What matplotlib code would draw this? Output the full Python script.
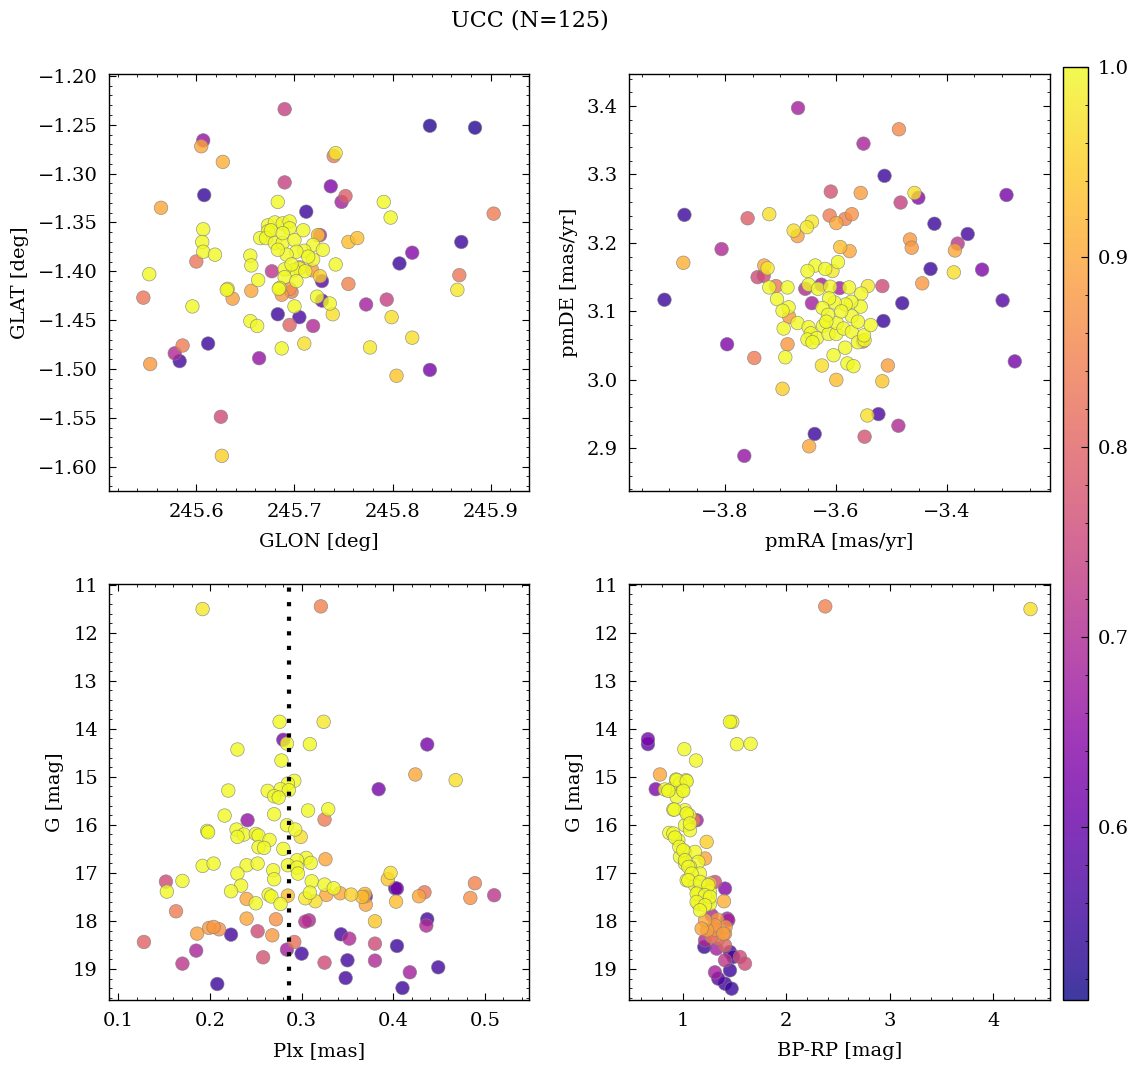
"""UCC membership overview: sky, proper motions, parallax and CMD coloured by probability."""

import matplotlib
matplotlib.use("Agg")
import matplotlib.pyplot as plt
import matplotlib.ticker as mticker
import numpy as np

# ---------------------------------------------------------------------------
# Data
# ---------------------------------------------------------------------------

glon = [245.690, 245.838, 245.884, 245.607, 245.605, 245.627, 245.742, 245.740, 245.690, 245.737,
        245.608, 245.752, 245.748, 245.564, 245.683, 245.791, 245.798, 245.712, 245.903, 245.607,
        245.606, 245.607, 245.619, 245.600, 245.552, 245.546, 245.870, 245.820, 245.807, 245.868,
        245.866, 245.755, 245.764, 245.742, 245.755, 245.726, 245.724, 245.632, 245.631, 245.637,
        245.596, 245.655, 245.656, 245.663, 245.656, 245.677, 245.773, 245.794, 245.799, 245.820,
        245.777, 245.804, 245.838, 245.728, 245.728, 245.723, 245.736, 245.739, 245.700, 245.683,
        245.705, 245.695, 245.719, 245.655, 245.662, 245.687, 245.710, 245.664, 245.612, 245.586,
        245.578, 245.583, 245.553, 245.625, 245.626, 245.673, 245.680, 245.688, 245.695, 245.695,
        245.673, 245.665, 245.671, 245.680, 245.688, 245.700, 245.709, 245.719, 245.729, 245.710,
        245.702, 245.692, 245.719, 245.705, 245.699, 245.690, 245.711, 245.718, 245.726, 245.690,
        245.702, 245.685, 245.695, 245.687, 245.697, 245.705, 245.676, 245.688, 245.683, 245.697,
        245.714, 245.684]
glat = [-1.234, -1.251, -1.253, -1.266, -1.272, -1.288, -1.279, -1.282, -1.309, -1.313,
        -1.322, -1.323, -1.329, -1.335, -1.329, -1.329, -1.345, -1.339, -1.341, -1.357,
        -1.370, -1.380, -1.383, -1.390, -1.403, -1.427, -1.370, -1.381, -1.392, -1.404,
        -1.419, -1.370, -1.366, -1.393, -1.413, -1.363, -1.363, -1.418, -1.419, -1.428,
        -1.436, -1.384, -1.394, -1.409, -1.420, -1.400, -1.434, -1.429, -1.447, -1.468,
        -1.478, -1.507, -1.501, -1.410, -1.430, -1.426, -1.433, -1.444, -1.436, -1.444,
        -1.447, -1.455, -1.456, -1.451, -1.456, -1.479, -1.474, -1.489, -1.474, -1.476,
        -1.484, -1.492, -1.495, -1.549, -1.589, -1.353, -1.350, -1.351, -1.349, -1.356,
        -1.359, -1.366, -1.366, -1.371, -1.371, -1.368, -1.358, -1.373, -1.378, -1.379,
        -1.380, -1.383, -1.388, -1.397, -1.399, -1.398, -1.400, -1.399, -1.405, -1.406,
        -1.410, -1.417, -1.418, -1.424, -1.421, -1.396, -1.358, -1.361, -1.378, -1.393,
        -1.385, -1.418]
prob_sky = [0.74, 0.53, 0.53, 0.66, 0.90, 0.91, 0.98, 0.84, 0.74, 0.63,
            0.54, 0.79, 0.68, 0.90, 1.00, 1.00, 1.00, 0.55, 0.84, 1.00,
            1.00, 1.00, 1.00, 0.83, 1.00, 0.83, 0.55, 0.64, 0.55, 0.83,
            0.98, 0.93, 0.93, 1.00, 0.85, 0.70, 0.94, 0.98, 1.00, 0.89,
            1.00, 1.00, 1.00, 1.00, 0.90, 0.72, 0.68, 0.74, 0.97, 0.97,
            0.98, 0.94, 0.62, 0.58, 0.60, 1.00, 1.00, 0.97, 1.00, 0.55,
            0.57, 0.80, 0.70, 1.00, 1.00, 1.00, 0.97, 0.66, 0.55, 0.84,
            0.70, 0.56, 0.88, 0.76, 0.95, 1.00, 1.00, 1.00, 1.00, 1.00,
            1.00, 1.00, 1.00, 1.00, 1.00, 1.00, 1.00, 1.00, 1.00, 1.00,
            1.00, 1.00, 1.00, 1.00, 1.00, 1.00, 1.00, 0.88, 0.95, 1.00,
            1.00, 1.00, 0.87, 0.88, 0.84, 0.88, 1.00, 1.00, 1.00, 1.00,
            1.00, 1.00]

pmra = [-3.668, -3.486, -3.550, -3.512, -3.609, -3.555, -3.458, -3.451, -3.483, -3.292,
        -3.873, -3.759, -3.720, -3.611, -3.599, -3.583, -3.571, -3.643, -3.652, -3.676,
        -3.669, -3.422, -3.362, -3.380, -3.385, -3.466, -3.463, -3.806, -3.875, -3.592,
        -3.575, -3.596, -3.637, -3.619, -3.606, -3.651, -3.729, -3.723, -3.741, -3.730,
        -3.708, -3.720, -3.687, -3.706, -3.429, -3.387, -3.336, -3.444, -3.516, -3.480,
        -3.299, -3.909, -3.655, -3.643, -3.626, -3.593, -3.649, -3.632, -3.610, -3.576,
        -3.542, -3.554, -3.555, -3.572, -3.582, -3.602, -3.612, -3.624, -3.571, -3.685,
        -3.696, -3.684, -3.669, -3.694, -3.649, -3.645, -3.651, -3.634, -3.642, -3.623,
        -3.613, -3.599, -3.598, -3.586, -3.571, -3.560, -3.551, -3.548, -3.549, -3.537,
        -3.514, -3.687, -3.691, -3.747, -3.796, -3.604, -3.583, -3.625, -3.579, -3.568,
        -3.506, -3.599, -3.516, -3.696, -3.277, -3.543, -3.523, -3.487, -3.638, -3.548,
        -3.648, -3.765, -3.614, -3.590, -3.617, -3.560]
pmde = [3.397, 3.366, 3.345, 3.298, 3.275, 3.273, 3.273, 3.266, 3.259, 3.270,
        3.241, 3.236, 3.242, 3.240, 3.229, 3.235, 3.242, 3.231, 3.223, 3.218,
        3.210, 3.228, 3.213, 3.199, 3.189, 3.205, 3.193, 3.191, 3.171, 3.194,
        3.188, 3.172, 3.167, 3.162, 3.159, 3.159, 3.167, 3.163, 3.150, 3.152,
        3.137, 3.135, 3.135, 3.118, 3.162, 3.157, 3.161, 3.141, 3.137, 3.112,
        3.116, 3.117, 3.133, 3.112, 3.139, 3.134, 3.139, 3.133, 3.136, 3.135,
        3.137, 3.126, 3.107, 3.114, 3.110, 3.113, 3.119, 3.105, 3.093, 3.106,
        3.101, 3.092, 3.083, 3.075, 3.077, 3.068, 3.059, 3.061, 3.055, 3.079,
        3.067, 3.067, 3.083, 3.075, 3.070, 3.055, 3.056, 3.058, 3.065, 3.080,
        3.086, 3.052, 3.033, 3.032, 3.052, 3.036, 3.047, 3.021, 3.024, 3.020,
        3.021, 3.000, 2.998, 2.987, 3.027, 2.948, 2.950, 2.933, 2.921, 2.917,
        2.903, 2.889, 3.095, 3.100, 3.085, 3.085]
prob_pm = [0.68, 0.86, 0.69, 0.55, 0.77, 0.89, 0.97, 0.64, 0.74, 0.62,
           0.55, 0.79, 0.97, 0.84, 0.90, 0.85, 0.87, 0.98, 0.98, 0.97,
           0.89, 0.55, 0.56, 0.72, 0.90, 0.88, 0.88, 0.70, 0.91, 0.93,
           0.90, 1.00, 1.00, 1.00, 0.98, 1.00, 0.90, 0.98, 0.76, 0.76,
           0.83, 1.00, 1.00, 1.00, 0.55, 0.97, 0.63, 0.88, 0.76, 0.55,
           0.58, 0.55, 0.70, 0.68, 0.68, 0.68, 1.00, 1.00, 1.00, 1.00,
           0.98, 1.00, 1.00, 1.00, 1.00, 1.00, 1.00, 1.00, 1.00, 1.00,
           1.00, 0.88, 1.00, 1.00, 1.00, 1.00, 1.00, 1.00, 1.00, 1.00,
           1.00, 1.00, 1.00, 1.00, 1.00, 1.00, 0.84, 1.00, 1.00, 1.00,
           0.55, 0.88, 1.00, 0.84, 0.63, 1.00, 1.00, 0.97, 1.00, 1.00,
           0.89, 0.93, 0.94, 0.95, 0.62, 0.97, 0.57, 0.70, 0.55, 0.77,
           0.90, 0.66, 1.00, 1.00, 1.00, 1.00]

plx = [0.192, 0.321, 0.276, 0.324, 0.280, 0.284, 0.309, 0.230, 0.278, 0.437,
       0.424, 0.468, 0.384, 0.292, 0.285, 0.277, 0.286, 0.263, 0.270, 0.275,
       0.220, 0.307, 0.329, 0.325, 0.270, 0.216, 0.241, 0.284, 0.197, 0.198,
       0.229, 0.237, 0.230, 0.293, 0.299, 0.250, 0.253, 0.265, 0.253, 0.259,
       0.280, 0.326, 0.305, 0.310, 0.295, 0.285, 0.295, 0.296, 0.192, 0.204,
       0.240, 0.252, 0.230, 0.269, 0.270, 0.170, 0.152, 0.234, 0.311, 0.325,
       0.335, 0.397, 0.394, 0.402, 0.404, 0.489, 0.434, 0.309, 0.304, 0.315,
       0.327, 0.342, 0.354, 0.369, 0.370, 0.366, 0.370, 0.380, 0.403, 0.428,
       0.484, 0.510, 0.437, 0.436, 0.153, 0.163, 0.223, 0.264, 0.267, 0.250,
       0.240, 0.277, 0.285, 0.240, 0.272, 0.304, 0.308, 0.186, 0.199, 0.204,
       0.210, 0.223, 0.252, 0.268, 0.128, 0.185, 0.170, 0.258, 0.208, 0.292,
       0.284, 0.300, 0.325, 0.343, 0.352, 0.350, 0.348, 0.380, 0.380, 0.404,
       0.410, 0.418, 0.449]
g_plx = [11.507, 11.451, 13.854, 13.854, 14.229, 14.306, 14.319, 14.431, 14.660, 14.326,
         14.951, 15.069, 15.257, 15.083, 15.139, 15.257, 15.278, 15.292, 15.403, 15.431,
         15.285, 15.701, 15.674, 15.889, 15.778, 15.806, 15.903, 16.007, 16.125, 16.153,
         16.097, 16.201, 16.250, 16.097, 16.250, 16.188, 16.222, 16.313, 16.465, 16.479,
         16.500, 16.715, 16.688, 16.792, 16.736, 16.840, 16.889, 17.014, 16.854, 16.806,
         16.840, 16.806, 17.014, 16.944, 17.132, 17.167, 17.181, 17.264, 17.174, 17.243,
         17.319, 17.000, 17.132, 17.319, 17.325, 17.215, 17.403, 17.410, 17.528, 17.590,
         17.458, 17.424, 17.451, 17.438, 17.490, 17.500, 17.660, 18.007, 17.597, 17.486,
         17.521, 17.465, 17.965, 18.097, 17.389, 17.799, 17.382, 17.451, 17.490, 17.632,
         17.542, 17.646, 17.472, 17.951, 17.965, 18.014, 17.986, 18.264, 18.146, 18.125,
         18.174, 18.285, 18.215, 18.299, 18.438, 18.618, 18.889, 18.757, 19.313, 18.438,
         18.597, 18.681, 18.868, 18.278, 18.368, 18.819, 19.188, 18.472, 18.826, 18.521,
         19.396, 19.069, 18.965]
prob_plx = [0.98, 0.85, 1.00, 0.98, 0.62, 1.00, 1.00, 1.00, 1.00, 0.62,
            0.90, 0.97, 0.62, 1.00, 1.00, 1.00, 1.00, 1.00, 1.00, 1.00,
            1.00, 1.00, 1.00, 0.84, 1.00, 1.00, 0.66, 1.00, 1.00, 1.00,
            1.00, 1.00, 1.00, 1.00, 0.97, 1.00, 1.00, 1.00, 1.00, 1.00,
            1.00, 0.90, 1.00, 1.00, 1.00, 1.00, 1.00, 1.00, 1.00, 1.00,
            1.00, 1.00, 1.00, 1.00, 1.00, 1.00, 0.76, 1.00, 1.00, 1.00,
            1.00, 0.97, 0.94, 0.55, 0.62, 0.85, 0.83, 1.00, 0.98, 0.97,
            0.90, 0.90, 0.95, 0.93, 0.62, 0.93, 0.90, 0.94, 0.93, 0.90,
            0.87, 0.72, 0.56, 0.70, 1.00, 0.84, 1.00, 1.00, 1.00, 1.00,
            0.90, 1.00, 0.93, 0.90, 0.87, 0.71, 0.70, 0.89, 0.88, 0.88,
            0.87, 0.56, 0.76, 0.88, 0.80, 0.69, 0.72, 0.77, 0.55, 0.82,
            0.68, 0.56, 0.76, 0.56, 0.70, 0.56, 0.56, 0.76, 0.70, 0.55,
            0.55, 0.68, 0.56]
plx_median = 0.286

bprp = [2.377, 4.359, 1.457, 1.479, 1.524, 1.656, 0.665, 0.665, 1.016, 1.129,
        0.781, 0.740, 0.936, 1.032, 0.974, 0.878, 0.829, 1.000, 0.942, 0.910,
        1.023, 1.064, 1.135, 1.103, 1.023, 1.071, 0.871, 0.958, 0.910, 1.023,
        1.119, 1.232, 1.216, 0.974, 1.023, 1.151, 1.071, 1.167, 1.039, 1.119,
        1.264, 1.312, 1.409, 1.264, 1.151, 1.248, 1.399, 1.183, 1.151, 1.264,
        1.216, 1.335, 1.431, 1.280, 1.415, 1.312, 1.238, 1.409, 1.344, 1.209,
        1.328, 1.457, 1.409, 1.489, 1.553, 1.602, 1.457, 1.312, 1.344, 1.409,
        1.473, 0.942, 1.039, 0.862, 1.006, 0.920, 1.039, 1.071, 0.926, 0.968,
        1.006, 1.023, 1.055, 1.087, 1.055, 1.167, 1.248, 1.135, 1.216, 1.264,
        1.135, 1.216, 1.167, 1.312, 1.183, 1.393, 1.280, 1.216, 1.409, 1.441]
g_cmd = [11.451, 11.507, 13.854, 13.854, 14.319, 14.312, 14.215, 14.319, 14.424, 14.660,
         14.951, 15.257, 15.056, 15.069, 15.139, 15.264, 15.264, 15.278, 15.417, 15.681,
         15.694, 15.799, 15.903, 15.903, 16.007, 16.111, 16.167, 16.319, 16.180, 16.563,
         16.563, 16.354, 16.701, 16.667, 16.806, 16.771, 16.875, 17.014, 17.153, 17.257,
         17.222, 17.188, 17.326, 17.396, 17.396, 17.569, 17.590, 17.604, 17.646, 17.646,
         17.986, 17.972, 17.951, 17.882, 18.125, 18.181, 18.194, 18.264, 18.368, 18.542,
         18.576, 18.646, 18.819, 18.750, 18.750, 18.889, 19.028, 19.069, 19.201, 19.306,
         19.410, 15.069, 15.090, 15.292, 15.292, 15.681, 15.764, 15.972, 16.264, 16.458,
         16.528, 16.736, 16.875, 17.014, 17.153, 17.188, 17.257, 17.431, 17.465, 17.500,
         17.604, 17.674, 17.778, 18.090, 18.160, 18.264, 18.333, 18.403, 18.507, 17.986]
prob_cmd = [0.85, 0.97, 1.00, 0.98, 1.00, 1.00, 0.62, 0.60, 1.00, 1.00,
            0.90, 0.63, 1.00, 1.00, 1.00, 1.00, 1.00, 1.00, 1.00, 1.00,
            1.00, 1.00, 0.68, 0.84, 1.00, 1.00, 1.00, 1.00, 1.00, 1.00,
            1.00, 0.95, 0.90, 1.00, 1.00, 1.00, 1.00, 1.00, 1.00, 1.00,
            0.94, 0.76, 0.64, 1.00, 1.00, 1.00, 0.91, 1.00, 1.00, 1.00,
            0.90, 0.88, 0.68, 0.70, 0.88, 0.88, 0.89, 0.87, 0.82, 0.55,
            0.68, 0.56, 0.72, 0.56, 0.76, 0.76, 0.55, 0.68, 0.58, 0.55,
            0.55, 1.00, 1.00, 1.00, 1.00, 1.00, 1.00, 1.00, 1.00, 1.00,
            1.00, 1.00, 1.00, 1.00, 1.00, 1.00, 1.00, 1.00, 1.00, 1.00,
            1.00, 1.00, 1.00, 0.88, 0.90, 0.89, 0.83, 0.70, 0.80, 0.68]

N_MEMBERS = 125
PROB_MIN, PROB_MAX = 0.509, 1.0

plt.rcParams.update({
    "font.family": "DejaVu Serif",
    "font.size": 14,
    "axes.linewidth": 1.0,
    "xtick.direction": "in",
    "ytick.direction": "in",
    "xtick.top": True,
    "ytick.right": True,
    "xtick.minor.visible": True,
    "ytick.minor.visible": True,
    "xtick.major.size": 5,
    "ytick.major.size": 5,
    "xtick.minor.size": 2.5,
    "ytick.minor.size": 2.5,
    "xtick.major.pad": 8.5,
    "xtick.minor.pad": 8.5,
    "ytick.major.pad": 8,
    "ytick.minor.pad": 8,
})

XLABEL_PAD = 8.5
YLABEL_PAD = 6.5


def scatter_panel(ax, x, y, p):
    x, y, p = np.asarray(x), np.asarray(y), np.asarray(p)
    order = np.argsort(p, kind="stable")
    return ax.scatter(x[order], y[order], c=p[order], cmap="plasma",
                      vmin=PROB_MIN, vmax=PROB_MAX, s=95, alpha=0.8,
                      edgecolors="grey", linewidths=0.5, zorder=3)


def label(ax, xlabel, ylabel):
    ax.set_xlabel(xlabel, labelpad=XLABEL_PAD)
    ax.set_ylabel(ylabel, labelpad=YLABEL_PAD)


def main() -> None:
    fig = plt.figure(figsize=(11.36, 10.67), dpi=100)
    W, H = 1136, 1067

    def box(l, r, t, b):
        return [l / W, 1 - b / H, (r - l) / W, (b - t) / H]

    ax_sky = fig.add_axes(box(109, 529, 74, 491))
    ax_pm = fig.add_axes(box(629, 1050, 74, 491))
    ax_plx = fig.add_axes(box(109, 529, 584, 1000))
    ax_cmd = fig.add_axes(box(629, 1050, 584, 1000))
    cax = fig.add_axes(box(1063, 1088, 67, 1000))

    # Sky
    sc = scatter_panel(ax_sky, glon, glat, prob_sky)
    ax_sky.set_xlim(245.511, 245.939)
    ax_sky.set_ylim(-1.625, -1.198)
    ax_sky.xaxis.set_major_locator(mticker.MultipleLocator(0.1))
    ax_sky.yaxis.set_major_locator(mticker.MultipleLocator(0.05))
    ax_sky.xaxis.get_major_formatter().set_useOffset(False)
    label(ax_sky, "GLON [deg]", "GLAT [deg]")

    # Proper motions
    scatter_panel(ax_pm, pmra, pmde, prob_pm)
    ax_pm.set_xlim(-3.973, -3.2135)
    ax_pm.set_ylim(2.8377, 3.4467)
    ax_pm.xaxis.set_major_locator(mticker.MultipleLocator(0.2))
    ax_pm.yaxis.set_major_locator(mticker.MultipleLocator(0.1))
    label(ax_pm, "pmRA [mas/yr]", "pmDE [mas/yr]")

    # Parallax vs G
    scatter_panel(ax_plx, plx, g_plx, prob_plx)
    ax_plx.axvline(plx_median, color="black", lw=3, ls=(0, (1, 2.5)), zorder=4)
    ax_plx.set_xlim(0.0899, 0.548)
    ax_plx.set_ylim(19.646, 10.985)
    ax_plx.xaxis.set_major_locator(mticker.MultipleLocator(0.1))
    ax_plx.yaxis.set_major_locator(mticker.MultipleLocator(1))
    label(ax_plx, "Plx [mas]", "G [mag]")

    # CMD
    scatter_panel(ax_cmd, bprp, g_cmd, prob_cmd)
    ax_cmd.set_xlim(0.482, 4.547)
    ax_cmd.set_ylim(19.646, 10.985)
    ax_cmd.xaxis.set_major_locator(mticker.MultipleLocator(1))
    ax_cmd.yaxis.set_major_locator(mticker.MultipleLocator(1))
    label(ax_cmd, "BP-RP [mag]", "G [mag]")

    cb = fig.colorbar(sc, cax=cax)
    cb.ax.yaxis.set_major_locator(mticker.MultipleLocator(0.1))
    cb.ax.yaxis.set_minor_locator(mticker.MultipleLocator(0.02))
    cb.ax.tick_params(which="both", direction="in", pad=7)
    cb.outline.set_linewidth(1.0)

    fig.text(530 / W, 1 - 20 / H, f"UCC (N={N_MEMBERS})", ha="center", va="center",
             fontsize=16)

    fig.savefig("out.png", dpi=100)
    plt.close(fig)


if __name__ == "__main__":
    main()
